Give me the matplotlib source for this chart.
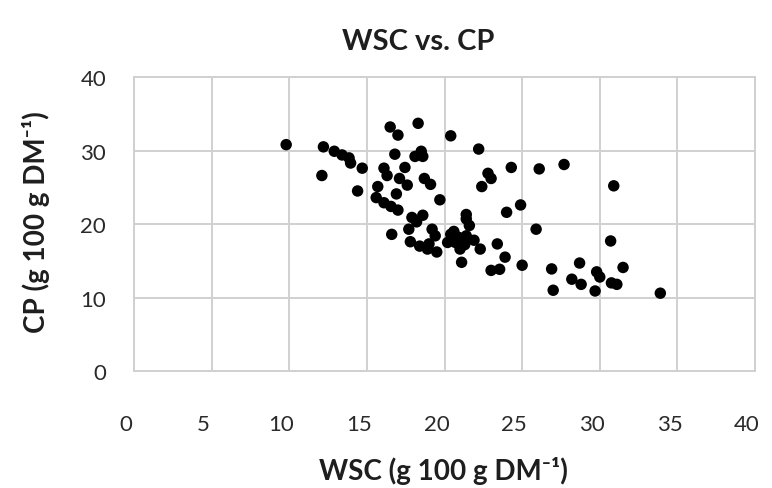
import matplotlib
matplotlib.use("Agg")
import matplotlib.pyplot as plt
import matplotlib.transforms as mtransforms

plt.rcParams["font.family"] = ["Lato", "DejaVu Sans"]

# water-soluble carbohydrate vs crude protein, g 100 g DM^-1
wsc = [9.8, 12.2, 12.1, 12.9, 13.4, 13.85, 13.95, 14.7, 14.4, 15.7,
       15.6, 16.1, 16.55, 17.0, 16.9, 16.5, 17.0, 18.3, 16.8, 18.1,
       18.5, 18.6, 16.1, 16.3, 17.45, 17.1, 17.6, 18.7, 19.1, 19.7,
       20.4, 22.2, 24.3, 26.1, 27.7, 30.9, 22.8, 23.0, 22.4, 24.9,
       24.0, 25.9, 21.4, 16.6, 17.8, 17.9, 18.6, 17.7, 19.2, 19.4,
       18.9, 19.5, 20.4, 20.7, 21.0, 21.4, 21.6, 21.4, 21.9, 20.2,
       22.3, 21.1, 23.4, 23.9, 23.0, 23.55, 25.0, 26.9, 27.0, 30.7,
       28.7, 31.5, 29.8, 30.0, 28.2, 28.8, 30.75, 31.1, 29.7, 33.9,
       18.2, 19.0, 20.9, 21.3, 20.6, 18.4]
cp = [30.8, 30.5, 26.6, 29.9, 29.4, 29.0, 28.3, 27.6, 24.5, 25.1,
      23.6, 22.9, 22.4, 21.9, 24.1, 33.2, 32.1, 33.7, 29.5, 29.2,
      29.9, 29.2, 27.6, 26.6, 27.7, 26.2, 25.3, 26.2, 25.4, 23.3,
      32.0, 30.2, 27.7, 27.5, 28.1, 25.2, 26.9, 26.2, 25.1, 22.6,
      21.6, 19.3, 21.3, 18.6, 17.6, 20.9, 21.2, 19.3, 19.3, 18.4,
      16.6, 16.2, 18.6, 17.5, 16.6, 18.4, 19.8, 20.7, 17.8, 17.5,
      16.6, 14.8, 17.3, 15.5, 13.7, 13.85, 14.4, 13.9, 11.0, 17.7,
      14.7, 14.1, 13.5, 12.8, 12.5, 11.8, 12.0, 11.8, 10.9, 10.6,
      20.3, 17.3, 18.2, 17.2, 19.0, 17.0]

x_ticks = [0, 5, 10, 15, 20, 25, 30, 35, 40]
y_ticks = [0, 10, 20, 30, 40]

fig = plt.figure(figsize=(7.72, 4.89), dpi=100)
ax = fig.add_axes([0.1736, 0.239, 0.8044, 0.6015])

ax.scatter(wsc, cp, s=68, color="black", edgecolors="none", zorder=3)

ax.set_xlim(0, 40)
ax.set_ylim(0, 40)
ax.set_xticks(x_ticks)
ax.set_yticks(y_ticks)
ax.grid(True, color="#d0d0d0", linewidth=1.4, zorder=0)
for sp in ax.spines.values():
    sp.set_color("#d0d0d0")
    sp.set_linewidth(1.4)
ax.tick_params(axis="both", length=0, labelsize=16, colors="#2a2a2a")
ax.tick_params(axis="x", pad=31)
ax.tick_params(axis="y", pad=20)

# x tick labels sit a little left of their gridlines
shift = mtransforms.ScaledTranslation(-8 / 100, 0, fig.dpi_scale_trans)
for lbl in ax.get_xticklabels():
    lbl.set_transform(lbl.get_transform() + shift)

fig.text(418 / 772, 1 - 42 / 489, "WSC vs. CP", ha="center", va="center",
         fontsize=21, fontweight="bold", color="#1e1e1e")
fig.text(443 / 772, 1 - 471 / 489, "WSC (g 100 g DM\u207b\u00b9)", ha="center",
         va="center", fontsize=20, fontweight="bold", color="#1e1e1e")
fig.text(36 / 772, 1 - 222 / 489, "CP (g 100 g DM\u207b\u00b9)", ha="center",
         va="center", rotation=90, fontsize=20, fontweight="bold", color="#1e1e1e")

fig.savefig("out.png", dpi=100, facecolor="white")
